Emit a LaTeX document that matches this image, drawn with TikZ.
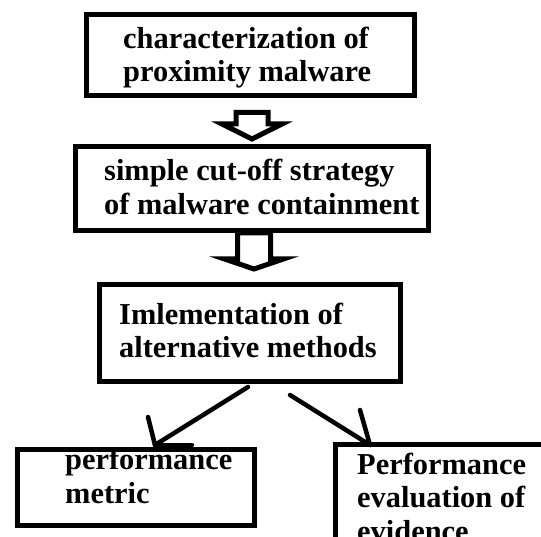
\documentclass[tikz,border=0pt]{standalone}
\usepackage{fontspec}
\setmainfont{Liberation Serif}
\usetikzlibrary{positioning,calc}

\tikzset{
  box/.style={draw, line width=5pt, inner sep=0pt},
  boxtext/.style={inner sep=0pt, align=left, anchor=base west,
    font=\fontsize{30.4}{33.5}\selectfont\bfseries},
  hollow/.style={draw, line width=5pt, fill=white},
  thinarrow/.style={line width=4.5pt, line cap=round}
}

\begin{document}
\begin{tikzpicture}[x=1pt,y=-1pt]
            \clip (0,0) rectangle (541,537);
            \node[box, minimum width=328, minimum height=81] (char) at (250.5,55) {};
            \node[box, minimum width=353, minimum height=84.5] (cut) at (252,188.75) {};
            \node[box, minimum width=301, minimum height=97] (impl) at (250,333) {};
            \node[box, minimum width=237, minimum height=76] (perf) at (136,487.5) {};
            \node[box, minimum width=300, minimum height=200, anchor=north west] (evid) at (333,442) {};
            % base anchor sits on the last line
            \node[boxtext] (chartext) at (123,82) {characterization of\\proximity malware};
            \node[boxtext] (cuttext) at (104,214.5) {simple cut-off strategy\\of malware containment};
            \node[boxtext] (impltext) at (119,358) {Imlementation of\\alternative methods};
            \node[boxtext] (perftext) at (65,503) {performance\\metric};
            \node[boxtext] (evidtext) at (357,541) {Performance\\evaluation of\\evidence};
            \draw[hollow] ($(cut.north)+(0,-5)$) -- ++(-30,-15) -- ++(14,0) -- ++(0,-11.5)
                -- ++(32,0) -- ++(0,11.5) -- ++(14,0) -- cycle;
            \draw[hollow] ($(impl.north)+(4,-13)$) -- ++(-29.5,-10) -- ++(13,0) -- ++(0,-26)
                -- ++(33,0) -- ++(0,26) -- ++(13,0) -- cycle;
            \coordinate (perftip) at ($(perf.north)+(19,-2)$);
            \coordinate (evidtip) at ($(evid.north west)+(37,3)$);
            \draw[thinarrow] ($(impl.south)+(-2,3)$) -- (perftip);
            \draw[thinarrow] (perftip) -- ++(-7,-28);
            \draw[thinarrow] (perftip) -- ++(37,0);
            \draw[thinarrow] ($(impl.south)+(40,11)$) -- (evidtip);
            \draw[thinarrow] (evidtip) -- ++(-10,-35);
        \end{tikzpicture}
\end{document}
